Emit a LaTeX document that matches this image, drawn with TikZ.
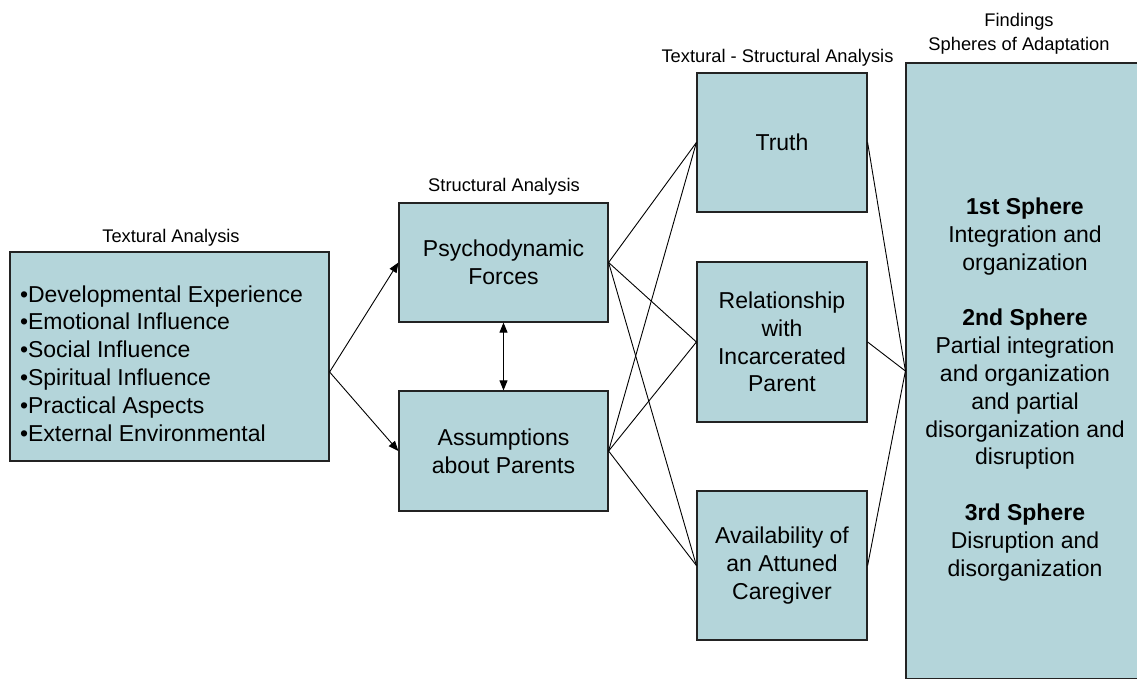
\documentclass[tikz,border=0pt]{standalone}
\usepackage{fontspec}
\setmainfont{Liberation Sans}
\usetikzlibrary{arrows.meta}
\definecolor{boxfill}{RGB}{180,213,218}
\definecolor{boxline}{RGB}{35,35,35}
\begin{document}
\begin{tikzpicture}[x=1pt,y=-1pt,
  box/.style={draw=boxline, line width=1.2pt, fill=boxfill, inner sep=0pt, align=center,
              font=\fontsize{23}{27.8}\selectfont},
  lbl/.style={font=\fontsize{18.3}{24}\selectfont, align=center, inner sep=0pt},
  conn/.style={line width=0.9pt, black},
  tip/.tip={Triangle[length=10pt,width=8pt]},
  arr/.style={conn, -tip}]
\clip (0,0) rectangle (1137,679);
\fill[white] (0,0) rectangle (1137,679);

% boxes
\node[box, minimum width=319pt, minimum height=209pt] (tex) at (169.5,356.5)
  {\raisebox{-13pt}[0pt][0pt]{\parbox{299pt}{\raggedright
   •Developmental Experience\\
   •Emotional Influence\\
   •Social Influence\\
   •Spiritual Influence\\
   •Practical Aspects\\
   •External Environmental}}};
\node[box, minimum width=209pt, minimum height=119pt] (psy) at (503.5,262.5) {Psychodynamic\\Forces};
\node[box, minimum width=209pt, minimum height=120pt] (asm) at (503.5,451) {Assumptions\\about Parents};
\node[box, minimum width=170pt, minimum height=139pt] (tru) at (782,142.5) {Truth};
\node[box, minimum width=170pt, minimum height=160pt] (rel) at (782,342) {Relationship\\with\\Incarcerated\\Parent};
\node[box, minimum width=170pt, minimum height=149pt] (ava) at (782,565.5) {Availability of\\an Attuned\\Caregiver};
\node[box, minimum width=238pt, minimum height=616pt] (fin) at (1025,371)
  {\raisebox{-25pt}[0pt][0pt]{\begin{tabular}{@{}c@{}}
   \textbf{1st Sphere}\\
   Integration and\\
   organization\\[27.8pt]
   \textbf{2nd Sphere}\\
   Partial integration\\
   and organization\\
   and partial\\
   disorganization and\\
   disruption\\[27.8pt]
   \textbf{3rd Sphere}\\
   Disruption and\\
   disorganization
   \end{tabular}}};

% labels
\node[lbl] (ltex) at (171,238) {Textural Analysis};
\node[lbl] (lstr) at (504,187) {Structural Analysis};
\node[lbl] (lts) at (777.5,58) {Textural - Structural Analysis};
\node[lbl] (lfin) at (1019,34) {Findings\\Spheres of Adaptation};

% connectors
\path (tex.east) ++(0,15.5) coordinate (texout);
\draw[arr] (texout) -- (psy.west);
\draw[arr] (texout) -- (asm.west);
\draw[conn, tip-tip] (psy.south) -- (asm.north);
\foreach \s in {psy,asm}
  \foreach \t in {tru,rel,ava}
    \draw[conn] (\s.east) -- (\t.west);
\foreach \t in {tru,rel,ava}
  \draw[conn] (\t.east) -- (fin.west);
\end{tikzpicture}
\end{document}
